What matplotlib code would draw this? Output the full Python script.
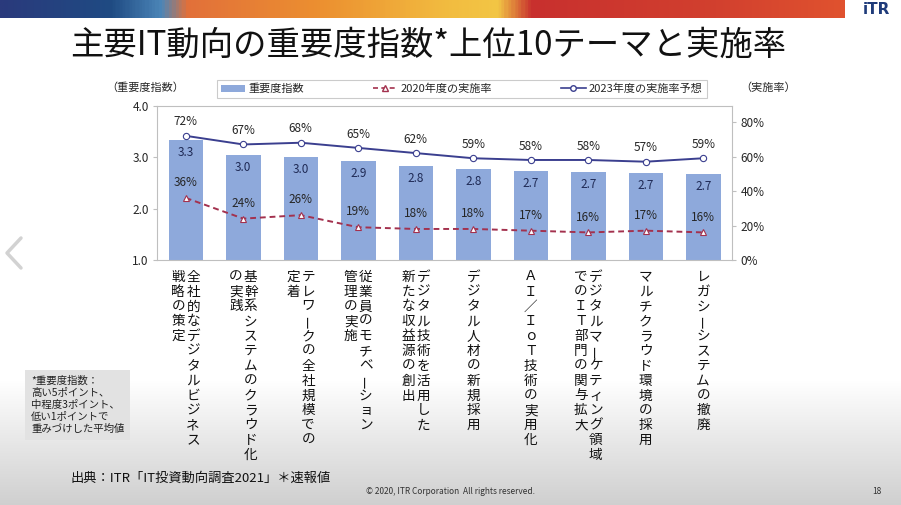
import numpy as np
import matplotlib.pyplot as plt
from matplotlib.lines import Line2D
from matplotlib.patches import Patch
from matplotlib.colors import LinearSegmentedColormap

plt.rcParams['font.family'] = ['Noto Sans CJK JP', 'DejaVu Sans']

# category labels, written vertically (columns right to left)
themes = [
    ["全社的なデジタルビジネス", "戦略の策定"],
    ["基幹系システムのクラウド化", "の実践"],
    ["テレワークの全社規模での", "定着"],
    ["従業員のモチベーション", "管理の実施"],
    ["デジタル技術を活用した", "新たな収益源の創出"],
    ["デジタル人材の新規採用"],
    ["ＡＩ／ＩｏＴ技術の実用化"],
    ["デジタルマーケティング領域", "でのＩＴ部門の関与拡大"],
    ["マルチクラウド環境の採用"],
    ["レガシーシステムの撤廃"],
]
importance = [3.33, 3.04, 3.01, 2.92, 2.84, 2.78, 2.74, 2.71, 2.69, 2.68]
rate2020 = [36, 24, 26, 19, 18, 18, 17, 16, 17, 16]
rate2023 = [72, 67, 68, 65, 62, 59, 58, 58, 57, 59]

barColor = '#8EA9DB'
navy = '#3B3F8F'
darkRed = '#A3314E'
textColor = '#262626'

W, H = 901, 505
fig = plt.figure(figsize=(W / 100, H / 100), dpi=100)

# slide background: white fading to grey at the bottom
bg = fig.add_axes([0, 0, 1, 1], zorder=-10)
grad = np.ones((H, 1))
rows = np.arange(H)
grad[:, 0] = np.clip((rows - 380) / 125.0, 0, 1)
bgCmap = LinearSegmentedColormap.from_list('bg', ['#FFFFFF', '#CFCFCF'])
bg.imshow(grad, aspect='auto', cmap=bgCmap, extent=[0, W, H, 0], vmin=0, vmax=1)

# coloured banner on top
bannerCmap = LinearSegmentedColormap.from_list('banner', [
    (0.0, '#2A3A7C'), (0.13, '#1F4B83'), (0.19, '#4C86B8'), (0.22, '#E2703A'),
    (0.38, '#EC9030'), (0.53, '#F2BC40'), (0.59, '#F2C645'), (0.63, '#C8302E'),
    (0.85, '#D2402E'), (1.0, '#E0522F')])
bg.imshow(np.linspace(0, 1, 600).reshape(1, -1), aspect='auto', cmap=bannerCmap,
          extent=[0, 845, 18, 0])
bg.set_xlim(0, W)
bg.set_ylim(H, 0)
bg.axis('off')
bg.text(876, 10, 'iTR', color='#1F3B7A', fontsize=11, fontweight='bold',
        ha='center', va='center', family='DejaVu Sans')
bg.plot([21, 7, 21], [238, 253, 268], color='#D2D2D2', lw=2.5, solid_capstyle='round')

fig.text(70 / W, 1 - 45 / H, '主要IT動向の重要度指数*上位10テーマと実施率',
         fontsize=24, color='#111111', va='center', ha='left')

# main plot
ax = fig.add_axes([157 / W, 1 - 260 / H, 575 / W, 154 / H])
x = np.arange(len(themes))
bars = ax.bar(x, importance, width=0.6, color=barColor, bottom=0, zorder=2)
ax.set_ylim(1, 4)
ax.set_xlim(-0.5, len(themes) - 0.5)
ax.set_yticks([1, 2, 3, 4])
ax.set_yticklabels(['%.1f' % v for v in [1, 2, 3, 4]])
ax.set_xticks([])
for s in ax.spines.values():
    s.set_color('#BFBFBF')
    s.set_linewidth(0.8)
ax.tick_params(axis='y', length=3, color='#BFBFBF', labelsize=8.5,
               labelcolor=textColor, pad=3)
for xi, v in zip(x, importance):
    ax.annotate('%.1f' % v, (xi, v), xytext=(0, -9), textcoords='offset points',
                ha='center', va='center', fontsize=8.5, color='#1F2A55', zorder=5)

ax2 = ax.twinx()
ax2.set_ylim(0, 89.3)
ax2.set_yticks([0, 20, 40, 60, 80])
ax2.set_yticklabels(['%d%%' % v for v in [0, 20, 40, 60, 80]])
for s in ax2.spines.values():
    s.set_visible(False)
ax2.tick_params(axis='y', length=3, color='#BFBFBF', labelsize=8.5,
                labelcolor=textColor, pad=3)

ax2.plot(x, rate2023, color=navy, lw=1.4, marker='o', ms=4.5,
         markerfacecolor='white', markeredgecolor=navy, markeredgewidth=0.8, zorder=4)
ax2.plot(x, rate2020, color=darkRed, lw=1.4, ls=(0, (3, 2)), marker='^', ms=4.5,
         markerfacecolor='white', markeredgecolor=darkRed, markeredgewidth=0.8, zorder=4)
for xi, v in zip(x, rate2023):
    ax2.annotate('%d%%' % v, (xi, v), xytext=(0, 10), textcoords='offset points',
                 ha='center', va='center', fontsize=8.5, color=textColor)
for xi, v in zip(x, rate2020):
    ax2.annotate('%d%%' % v, (xi, v), xytext=(0, 11), textcoords='offset points',
                 ha='center', va='center', fontsize=8.5, color=textColor)

# legend
handles = [
    Patch(facecolor=barColor, edgecolor='none'),
    Line2D([], [], color=darkRed, lw=1.2, ls=(0, (3, 2)), marker='^', ms=4,
           markerfacecolor='white', markeredgecolor=darkRed),
    Line2D([], [], color=navy, lw=1.2, marker='o', ms=4,
           markerfacecolor='white', markeredgecolor=navy),
]
leg = ax.legend(handles, ['重要度指数', '2020年度の実施率', '2023年度の実施率予想'],
                loc='center', bbox_to_anchor=(0.53, 1.11), ncol=3, fontsize=8,
                frameon=True, fancybox=False, edgecolor='#BFBFBF', handlelength=2.2,
                handletextpad=0.3, columnspacing=6.2, borderpad=0.35,
                borderaxespad=0)
leg.get_frame().set_linewidth(0.8)
for t in leg.get_texts():
    t.set_color(textColor)

fig.text(145 / W, 1 - 88 / H, '（重要度指数）', fontsize=8, ha='center', va='center',
         color=textColor)
fig.text(768 / W, 1 - 88 / H, '（実施率）', fontsize=8, ha='center', va='center',
         color=textColor)

# vertical category labels, one character at a time
charPitch = 10.7
colPitch = 10.8
labelSize = 9.8
for i, cols in enumerate(themes):
    n = len(cols)
    for j, col in enumerate(cols):
        dx = ((n - 1) / 2 - j) * colPitch
        for k, ch in enumerate(col):
            dy = -12 - k * charPitch
            if ch == 'ー':
                # long vowel mark turns upright in vertical writing
                ax.annotate(ch, (i, 0), xycoords=('data', 'axes fraction'),
                            xytext=(dx + 0.3 * labelSize, dy), textcoords='offset points',
                            ha='center', va='baseline', fontsize=labelSize, color='#111111',
                            rotation=90, rotation_mode='anchor', annotation_clip=False)
            else:
                ax.annotate(ch, (i, 0), xycoords=('data', 'axes fraction'),
                            xytext=(dx, dy), textcoords='offset points',
                            ha='center', va='center', fontsize=labelSize, color='#111111',
                            annotation_clip=False)

# footnote box
fig.text(31 / W, 1 - 405 / H,
         '*重要度指数：\n高い5ポイント、\n中程度3ポイント、\n低い1ポイントで\n重みづけした平均値',
         fontsize=7.5, ha='left', va='center', color='#222222', linespacing=1.25,
         bbox=dict(facecolor='#E2E2E2', edgecolor='none', boxstyle='square,pad=0.55'))

fig.text(70 / W, 1 - 478 / H, '出典：ITR「IT投資動向調査2021」＊速報値', fontsize=9.5,
         ha='left', va='center', color='#111111')
fig.text(450 / W, 1 - 492 / H, '© 2020, ITR Corporation  All rights reserved.',
         fontsize=6, ha='center', va='center', color='#333333')
fig.text(877 / W, 1 - 492 / H, '18', fontsize=6, ha='center', va='center',
         color='#333333')

fig.savefig('out.png', dpi=100)
